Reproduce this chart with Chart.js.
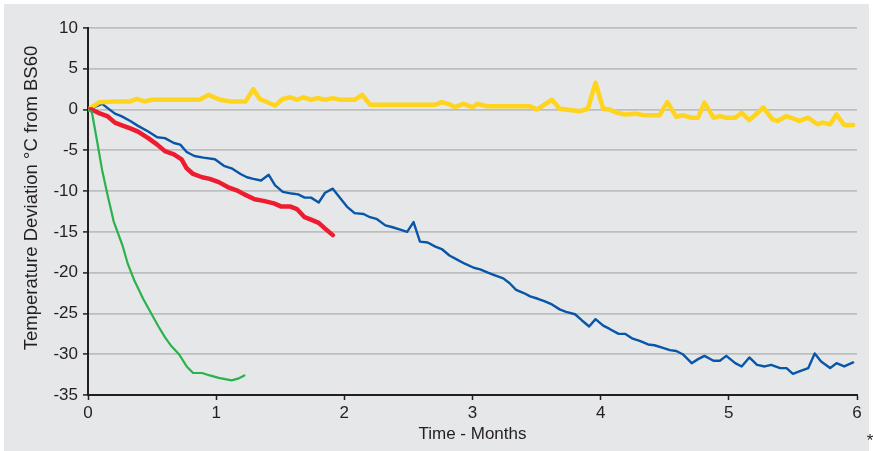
<!DOCTYPE html>
<html lang="en">
<head>
  <meta charset="UTF-8">
  <title>Temperature Deviation from BS60</title>
  <script src="https://cdn.jsdelivr.net/npm/chart.js"></script>
  <style>
    body {
      margin: 0;
      background-color: white;
    }
    .chart-container {
      position: relative;
      width: 873px;
      height: 451px;
    }
  </style>
</head>
<body>
  <div class="chart-container">
    <canvas id="tempChart"></canvas>
  </div>

  <script>
    // Values (months, °C deviation)
    const yellowMonths = [0, 0.09, 0.21, 0.33, 0.38, 0.44, 0.50, 0.87, 0.94, 1.03, 1.11, 1.23, 1.29, 1.34, 1.40, 1.46, 1.52, 1.58, 1.63, 1.68, 1.74, 1.79, 1.85, 1.91, 1.97, 2.08, 2.14, 2.20, 2.71, 2.76, 2.81, 2.86, 2.93, 3.00, 3.04, 3.11, 3.45, 3.50, 3.62, 3.68, 3.84, 3.90, 3.96, 4.02, 4.07, 4.13, 4.19, 4.27, 4.34, 4.46, 4.52, 4.59, 4.64, 4.71, 4.76, 4.81, 4.88, 4.93, 4.98, 5.05, 5.10, 5.16, 5.27, 5.34, 5.38, 5.45, 5.55, 5.62, 5.69, 5.73, 5.79, 5.84, 5.90, 5.97];
    const yellowTemps = [0, 0.9, 1.0, 1.0, 1.3, 1.0, 1.2, 1.2, 1.8, 1.2, 1.0, 1.0, 2.5, 1.3, 0.9, 0.5, 1.3, 1.5, 1.2, 1.5, 1.2, 1.4, 1.2, 1.4, 1.2, 1.2, 1.8, 0.6, 0.6, 0.9, 0.7, 0.3, 0.7, 0.3, 0.7, 0.4, 0.4, 0.0, 1.2, 0.1, -0.2, 0.1, 3.3, 0.1, 0.0, -0.4, -0.6, -0.5, -0.7, -0.7, 0.9, -0.9, -0.7, -1.0, -1.0, 0.85, -1.0, -0.8, -1.0, -1.0, -0.4, -1.3, 0.25, -1.2, -1.4, -0.8, -1.4, -1.0, -1.8, -1.6, -1.8, -0.6, -1.9, -1.9];

    const blueMonths = [0, 0.11, 0.21, 0.26, 0.33, 0.39, 0.47, 0.54, 0.60, 0.67, 0.72, 0.77, 0.83, 0.90, 0.99, 1.06, 1.12, 1.19, 1.24, 1.29, 1.35, 1.41, 1.46, 1.52, 1.59, 1.64, 1.69, 1.74, 1.80, 1.85, 1.91, 1.97, 2.02, 2.08, 2.15, 2.20, 2.25, 2.32, 2.37, 2.43, 2.49, 2.54, 2.59, 2.65, 2.71, 2.76, 2.82, 2.88, 2.94, 3.01, 3.06, 3.12, 3.17, 3.24, 3.29, 3.34, 3.40, 3.45, 3.51, 3.56, 3.62, 3.68, 3.73, 3.80, 3.85, 3.91, 3.96, 4.02, 4.07, 4.14, 4.19, 4.25, 4.31, 4.37, 4.42, 4.48, 4.54, 4.59, 4.64, 4.71, 4.76, 4.81, 4.88, 4.93, 4.98, 5.05, 5.10, 5.16, 5.22, 5.28, 5.33, 5.40, 5.45, 5.50, 5.55, 5.62, 5.67, 5.72, 5.79, 5.84, 5.90, 5.97];
    const blueTemps = [0, 0.7, -0.5, -0.8, -1.4, -2.0, -2.7, -3.4, -3.5, -4.1, -4.3, -5.2, -5.7, -5.9, -6.1, -6.9, -7.2, -7.9, -8.3, -8.5, -8.7, -8.0, -9.3, -10.1, -10.3, -10.4, -10.8, -10.8, -11.4, -10.2, -9.7, -10.9, -11.9, -12.7, -12.8, -13.2, -13.4, -14.2, -14.4, -14.7, -15.0, -13.8, -16.2, -16.3, -16.8, -17.1, -17.9, -18.4, -18.9, -19.4, -19.6, -20.0, -20.3, -20.7, -21.3, -22.1, -22.5, -22.9, -23.2, -23.5, -23.9, -24.5, -24.8, -25.1, -25.8, -26.6, -25.7, -26.5, -26.9, -27.5, -27.5, -28.1, -28.4, -28.8, -28.9, -29.2, -29.5, -29.6, -30.0, -31.1, -30.6, -30.2, -30.8, -30.8, -30.2, -31.1, -31.5, -30.4, -31.3, -31.5, -31.3, -31.7, -31.7, -32.4, -32.1, -31.7, -29.9, -30.9, -31.7, -31.1, -31.5, -31.0];

    const redMonths = [0, 0.03, 0.08, 0.15, 0.21, 0.26, 0.33, 0.39, 0.47, 0.54, 0.60, 0.67, 0.73, 0.77, 0.82, 0.89, 0.95, 1.02, 1.09, 1.16, 1.22, 1.30, 1.37, 1.45, 1.51, 1.58, 1.63, 1.69, 1.74, 1.80, 1.85, 1.91];
    const redTemps = [0, 0, -0.4, -0.8, -1.6, -1.9, -2.3, -2.7, -3.5, -4.3, -5.1, -5.5, -6.1, -7.2, -7.9, -8.3, -8.5, -8.9, -9.5, -9.9, -10.4, -11.0, -11.2, -11.5, -11.9, -11.9, -12.2, -13.2, -13.5, -13.9, -14.6, -15.4];

    const greenMonths = [0, 0.03, 0.07, 0.11, 0.15, 0.20, 0.27, 0.31, 0.36, 0.43, 0.50, 0.55, 0.60, 0.65, 0.71, 0.77, 0.82, 0.89, 0.95, 1.02, 1.12, 1.17, 1.22];
    const greenTemps = [0, -0.3, -3.8, -7.4, -10.3, -13.7, -16.7, -18.9, -20.9, -23.2, -25.2, -26.6, -27.9, -29.0, -30.0, -31.5, -32.3, -32.3, -32.6, -32.9, -33.2, -33.0, -32.6];

    const xTicks = [0, 1, 2, 3, 4, 5, 6];
    const yTicks = [-35, -30, -25, -20, -15, -10, -5, 0, 5, 10];
    const yTitle = 'Temperature Deviation °C from BS60';

    const toPoints = (months, temps) => months.map((m, i) => ({ x: m, y: temps[i] }));

    const fontFamily = '"Liberation Sans", Arial, sans-serif';
    const axisColor = '#231f20';

    // Gray panel behind the chart, the y title (sits a bit above centre) and the footnote asterisk
    const panelPlugin = {
      id: 'panel',
      beforeDraw(chart) {
        const c = chart.ctx;
        c.save();
        c.fillStyle = '#ffffff';
        c.fillRect(0, 0, chart.width, chart.height);
        c.fillStyle = '#e6e7e8';
        c.fillRect(4, 4, 865, 447);
        c.restore();
      },
      afterDraw(chart) {
        const c = chart.ctx;
        c.save();
        c.fillStyle = axisColor;
        c.font = '18.5px ' + fontFamily;
        c.textAlign = 'center';
        c.textBaseline = 'middle';
        c.translate(32, 198);
        c.rotate(-Math.PI / 2);
        c.fillText(yTitle, 0, 0);
        c.restore();

        c.save();
        c.fillStyle = axisColor;
        c.font = '17px ' + fontFamily;
        c.textAlign = 'center';
        c.textBaseline = 'middle';
        c.fillText('*', 870, 441);
        c.restore();
      }
    };

    new Chart(document.getElementById('tempChart'), {
      type: 'line',
      data: {
        datasets: [
          {
            label: 'Green',
            data: toPoints(greenMonths, greenTemps),
            borderColor: '#2bb24c',
            borderWidth: 2.2,
            order: 1
          },
          {
            label: 'Red',
            data: toPoints(redMonths, redTemps),
            borderColor: '#ee1c31',
            borderWidth: 4.5,
            order: 2
          },
          {
            label: 'Blue',
            data: toPoints(blueMonths, blueTemps),
            borderColor: '#0756a8',
            borderWidth: 2.4,
            order: 4
          },
          {
            label: 'Yellow',
            data: toPoints(yellowMonths, yellowTemps),
            borderColor: '#ffd41f',
            borderWidth: 4.5,
            order: 3
          }
        ]
      },
      options: {
        responsive: true,
        maintainAspectRatio: false,
        animation: false,
        layout: {
          padding: { left: 0, top: 28, right: 16, bottom: 0 }
        },
        elements: {
          point: { radius: 0 },
          line: { tension: 0, borderJoinStyle: 'round', borderCapStyle: 'round' }
        },
        plugins: {
          legend: { display: false },
          tooltip: { enabled: false }
        },
        scales: {
          x: {
            type: 'linear',
            min: 0,
            max: 6,
            afterFit: (scale) => { scale.height = 56; },
            afterBuildTicks: (scale) => { scale.ticks = xTicks.map(v => ({ value: v })); },
            grid: {
              drawOnChartArea: false,
              tickLength: 5,
              tickColor: axisColor,
              tickWidth: 1.5
            },
            border: { color: axisColor, width: 2 },
            ticks: {
              color: axisColor,
              font: { family: fontFamily, size: 17 },
              padding: 3
            },
            title: {
              display: true,
              text: 'Time - Months',
              color: axisColor,
              font: { family: fontFamily, size: 17 },
              padding: { top: 0, bottom: 6 }
            }
          },
          y: {
            type: 'linear',
            min: -35,
            max: 10,
            afterFit: (scale) => { scale.width = 88; },
            afterBuildTicks: (scale) => { scale.ticks = yTicks.map(v => ({ value: v })); },
            grid: {
              color: '#bcbec0',
              lineWidth: 1.8,
              tickLength: 5,
              tickColor: axisColor,
              tickWidth: 1.5
            },
            border: { color: axisColor, width: 2 },
            ticks: {
              color: axisColor,
              font: { family: fontFamily, size: 17 },
              padding: 5
            }
          }
        }
      },
      plugins: [panelPlugin]
    });
  </script>
</body>
</html>
